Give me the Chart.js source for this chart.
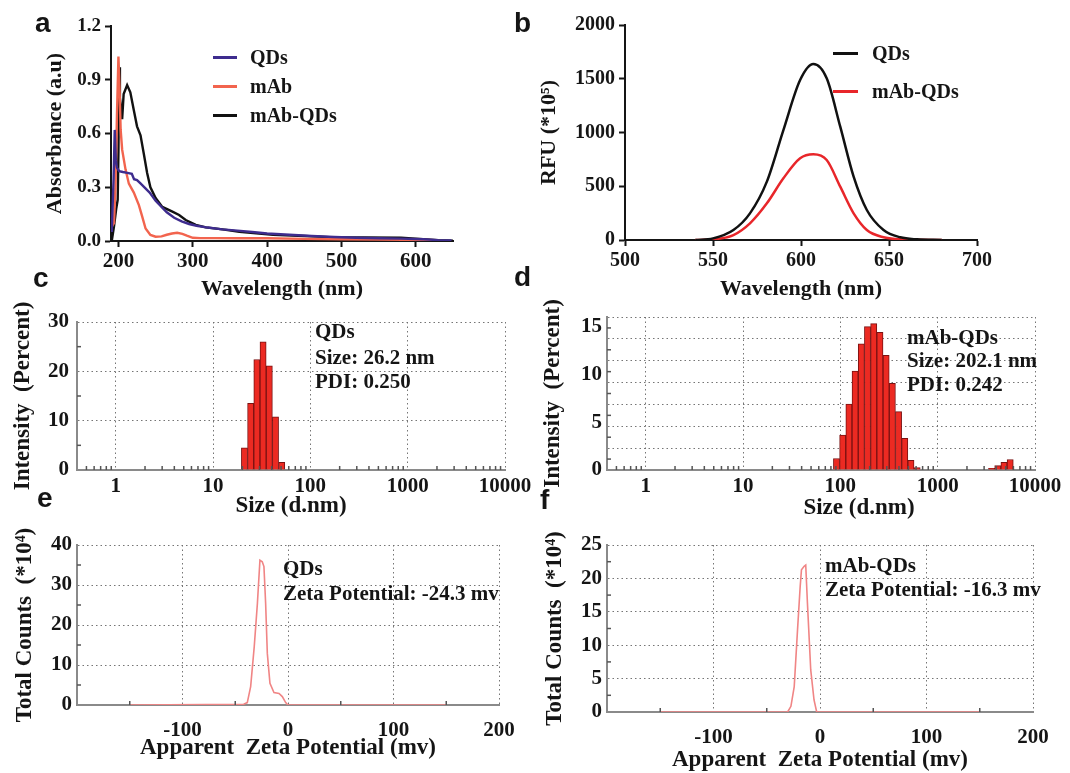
<!DOCTYPE html>
<html><head><meta charset="utf-8">
<script src="https://cdn.jsdelivr.net/npm/chart.js@4.4.1/dist/chart.umd.min.js"></script>
<style>
body{margin:0;background:#fff;width:1070px;height:773px;overflow:hidden;position:relative;}
canvas{position:absolute;left:0;top:0;}
.t{position:absolute;white-space:nowrap;font-family:"Liberation Serif","Times New Roman",serif;font-weight:bold;line-height:1;color:#151515;}
.L{font-family:"Liberation Sans",Arial,sans-serif;}
.sw{position:absolute;height:3px;}
</style></head><body>
<canvas id="pa" width="1070" height="773"></canvas>
<canvas id="pb" width="1070" height="773"></canvas>
<canvas id="pc" width="1070" height="773"></canvas>
<canvas id="pd" width="1070" height="773"></canvas>
<canvas id="pe" width="1070" height="773"></canvas>
<canvas id="pf" width="1070" height="773"></canvas>
<script>
// ---------- DATA ----------
// (a) UV-vis absorbance
const uvSeriesNames = ['QDs', 'mAb', 'mAb-QDs'];
const uvQdsNm = [191,193.5,195,196.5,198,201,206,212,218,221,225,230,236,242,250,258,265,275,285,295,305,320,340,360,380,400,430,460,490,520,550,580,610,630,648];
const uvQdsAbs = [0.05,0.35,0.62,0.45,0.41,0.39,0.385,0.38,0.375,0.345,0.34,0.32,0.295,0.27,0.225,0.19,0.16,0.13,0.11,0.095,0.085,0.075,0.065,0.058,0.05,0.042,0.035,0.028,0.022,0.018,0.015,0.013,0.01,0.005,0.003];
const uvMabNm = [191,194,196,198,200,201.5,203,205,209.5,214,220.7,227.5,232,236.5,243,250,258,265,272,279,286,292,300,310,330,360,400,450,500,550,600,630];
const uvMabAbs = [0.08,0.10,0.30,0.70,1.03,0.85,0.62,0.51,0.40,0.32,0.27,0.20,0.136,0.07,0.034,0.024,0.026,0.035,0.042,0.046,0.04,0.03,0.018,0.016,0.016,0.015,0.015,0.012,0.01,0.008,0.006,0.004];
const uvConjNm = [191,194,197,199,200,200.8,202,205,207,211.7,216,220.7,225,229.7,234,238.6,243,250,259,272.6,281.6,290.5,304,317.6,340,362.6,408,450,491,530,580,610,630,650];
const uvConjAbs = [0.0,0.08,0.18,0.23,0.5,0.97,0.8,0.68,0.82,0.87,0.83,0.73,0.64,0.59,0.49,0.38,0.30,0.24,0.19,0.164,0.145,0.117,0.09,0.076,0.065,0.052,0.034,0.028,0.02,0.02,0.018,0.01,0.004,0.002];
const uvXTicks = [200,300,400,500,600];
const uvYTicks = [0,0.3,0.6,0.9,1.2];

// (b) fluorescence
const flSeriesNames = ['QDs', 'mAb-QDs'];
const flNm = [540,550,561.6,571,580.6,590,599.5,607,614.6,622.3,629.9,637.4,646.9,656.4,665.9,680];
const flQds = [0,15,93,248,543,1023,1488,1637,1504,1054,589,279,93,25,6,0];
const flConj = [0,6,46,155,341,574,760,797,744,496,248,93,25,6,2,0];
const flXTicks = [500,550,600,650,700];
const flYTicks = [0,500,1000,1500,2000];

// (c) DLS QDs
const dlsSizeC = [21.04,24.36,28.21,32.67,37.84,43.82,50.75];
const dlsIntC = [4.5,13.5,22.4,26.0,21.1,10.8,1.55];
// (d) DLS mAb-QDs
const dlsSizeD = [91.28,105.7,122.4,141.8,164.2,190.1,220.2,255.0,295.3,342.0,396.1,458.7,531.2,615.1,3580,4145,4801,5560];
const dlsIntD = [1.2,3.66,6.9,10.35,13.2,15.0,15.3,14.4,12.0,9.06,6.1,3.3,1.0,0.25,0.17,0.45,0.8,1.1];
const sizeTicks = [1,10,100,1000,10000];
const dlsYTicksC = [0,10,20,30];
const dlsYLabelsD = [0,5,10,15];

// (e) zeta QDs
const zetaMvE = [-150,-42,-38.6,-35.4,-32,-29,-26.6,-24.4,-22.8,-21.2,-19.6,-17.1,-13.3,-8.5,-5.4,-2.2,0,150];
const zetaCountE = [0,0.2,0.6,4.6,14.6,25.4,36.2,35.8,34.6,25.4,12.9,5.4,3.1,2.9,2.1,0.6,0,0];
// (f) zeta mAb-QDs
const zetaMvF = [-150,-30.4,-27.3,-24.2,-21.1,-18.6,-17.4,-14.9,-13.4,-11.8,-8.7,-5.6,-3.1,150];
const zetaCountF = [0,0,0.85,3.8,12.3,18.8,21.3,21.8,22,16.3,6.3,1.8,0,0];
const zetaXTicks = [-100,0,100,200];
const zetaYTicksE = [0,10,20,30,40];
const zetaYTicksF = [0,5,10,15,20,25];

// ---------- HELPERS ----------
const W = 1070, H = 773;
const INK = '#151515';
const SERIF = "'Liberation Serif','Times New Roman',serif";
const GRAY = 'rgba(110,110,110,0.95)';
const pts = (xs, ys) => xs.map((x, i) => ({x: x, y: ys[i]}));

function frame(g) {
  const sL = g.yTitleX - g.titleSize / 2;
  const sB = g.xTitleY + g.titleSize / 2;
  return {padding: {left: sL, top: g.T, right: W - g.R, bottom: H - sB}, yW: g.L - sL, xH: sB - g.B};
}

function axis(o) {
  return {
    type: o.type || 'linear', position: o.pos, min: o.min, max: o.max, offset: false,
    afterFit: s => { if (o.pos === 'left') s.width = o.size; else s.height = o.size; },
    afterBuildTicks: s => { s.ticks = o.ticks.map(v => ({value: v})); },
    ticks: {autoSkip: false, maxRotation: 0, minRotation: 0, padding: o.pad, color: INK,
      font: {family: SERIF, size: o.tickSize || 21, weight: 'bold'},
      callback: o.fmt || (v => String(v))},
    grid: o.grid, border: o.border,
    title: {display: o.noTitle ? false : true, text: o.title, color: INK, padding: 0,
      font: {family: SERIF, size: o.titleSize, weight: 'bold', lineHeight: 1}}
  };
}
const prismGrid = {display: true, drawOnChartArea: false, drawTicks: true, tickLength: 6, tickWidth: 2, tickColor: INK, offset: false};
const prismBorder = {display: true, color: INK, width: 2};
const malvernGrid = c => ({display: true, drawTicks: false, color: c || GRAY, lineWidth: 1, offset: false});
const malvernBorder = {display: true, color: '#8a8a8a', width: 2, dash: [1.5, 3]};

const minorTicks = {
  id: 'minorTicks',
  afterDraw(chart, args, opts) {
    const ctx = chart.ctx, ca = chart.chartArea, sx = chart.scales.x, sy = chart.scales.y;
    ctx.save(); ctx.strokeStyle = '#555'; ctx.lineWidth = 1.5;
    (opts.x || []).forEach(v => { const p = sx.getPixelForValue(v); ctx.beginPath(); ctx.moveTo(p, ca.bottom); ctx.lineTo(p, ca.bottom - 4); ctx.stroke(); });
    (opts.y || []).forEach(v => { const p = sy.getPixelForValue(v); ctx.beginPath(); ctx.moveTo(ca.left, p); ctx.lineTo(ca.left + 4, p); ctx.stroke(); });
    ctx.restore();
  }
};

function build(id, fr, cfg) {
  return new Chart(document.getElementById(id), {
    type: cfg.type, data: {datasets: cfg.datasets},
    options: {responsive: false, animation: false, events: [],
      layout: {padding: fr.padding},
      plugins: {legend: {display: false}, tooltip: {enabled: false}, minorTicks: cfg.minor || {}},
      scales: {x: cfg.x, y: cfg.y}},
    plugins: cfg.minor ? [minorTicks] : []
  });
}

function logMinors(lo, hi) {
  const out = [];
  for (let d = 0.1; d < hi; d *= 10) for (let k = 2; k <= 9; k++) { const v = k * d; if (v > lo && v < hi) out.push(v); }
  return out;
}

// ---------- (a) ----------
{
  const fr = frame({L: 111, T: 26, R: 453, B: 241, yTitleX: 55, xTitleY: 289, titleSize: 22});
  build('pa', fr, {type: 'line',
    datasets: [
      {label: uvSeriesNames[0], data: pts(uvQdsNm, uvQdsAbs), borderColor: '#3e2c8e', borderWidth: 2.4, pointRadius: 0, tension: 0},
      {label: uvSeriesNames[1], data: pts(uvMabNm, uvMabAbs), borderColor: '#f2644e', borderWidth: 2.4, pointRadius: 0, tension: 0},
      {label: uvSeriesNames[2], data: pts(uvConjNm, uvConjAbs), borderColor: '#111', borderWidth: 2.4, pointRadius: 0, tension: 0}
    ],
    x: axis({pos: 'bottom', min: 190, max: 650, ticks: uvXTicks, size: fr.xH, pad: 2, tickSize: 21, grid: prismGrid, border: prismBorder, title: 'Wavelength (nm)', titleSize: 22}),
    y: axis({pos: 'left', min: 0, max: 1.2, ticks: uvYTicks, size: fr.yW, pad: 4, tickSize: 19, grid: prismGrid, border: prismBorder, title: 'Absorbance (a.u)', titleSize: 22, fmt: v => v.toFixed(1)})
  });
}
// ---------- (b) ----------
{
  const fr = frame({L: 625, T: 25, R: 977, B: 240, yTitleX: 549, xTitleY: 289, titleSize: 22});
  build('pb', fr, {type: 'line',
    datasets: [
      {label: flSeriesNames[0], data: pts(flNm, flQds), borderColor: '#111', borderWidth: 2.5, pointRadius: 0, cubicInterpolationMode: 'monotone'},
      {label: flSeriesNames[1], data: pts(flNm, flConj), borderColor: '#e8262a', borderWidth: 2.5, pointRadius: 0, cubicInterpolationMode: 'monotone'}
    ],
    x: axis({pos: 'bottom', min: 500, max: 700, ticks: flXTicks, size: fr.xH, pad: 3, tickSize: 20, grid: prismGrid, border: prismBorder, title: 'Wavelength (nm)', titleSize: 22}),
    y: axis({pos: 'left', min: 0, max: 2000, ticks: flYTicks, size: fr.yW, pad: 4, tickSize: 20, grid: prismGrid, border: prismBorder, title: 'RFU (*10\u2075)', titleSize: 22})
  });
}
// ---------- (c) ----------
const barStyle = {backgroundColor: '#ec2a22', borderColor: '#7a1212', borderWidth: 1, barPercentage: 1, categoryPercentage: 1};
{
  const fr = frame({L: 77, T: 322, R: 505, B: 470, yTitleX: 23, xTitleY: 506, titleSize: 23});
  build('pc', fr, {type: 'bar',
    datasets: [Object.assign({label: 'QDs', data: pts(dlsSizeC, dlsIntC)}, barStyle)],
    x: axis({type: 'logarithmic', pos: 'bottom', min: 0.4, max: 10000, ticks: sizeTicks, size: fr.xH, pad: 4, grid: malvernGrid(), border: malvernBorder, title: 'Size (d.nm)', titleSize: 23}),
    y: axis({pos: 'left', min: 0, max: 30, ticks: dlsYTicksC, size: fr.yW, pad: 8, grid: malvernGrid(), border: malvernBorder, title: 'Intensity  (Percent)', titleSize: 23}),
    minor: {x: logMinors(0.4, 10000), y: [5, 15, 25]}
  });
}
// ---------- (d) ----------
{
  const fr = frame({L: 607, T: 317, R: 1035, B: 470, yTitleX: 553, xTitleY: 507, titleSize: 23});
  const yMax = 16, nGrid = 7;
  const gridVals = []; for (let i = 0; i <= nGrid; i++) gridVals.push(yMax * i / nGrid);
  const allY = Array.from(new Set([...gridVals, ...dlsYLabelsD])).sort((a, b) => a - b);
  const isGrid = v => gridVals.some(g => Math.abs(g - v) < 1e-9);
  const minorY = []; for (let i = 0; i < nGrid; i++) minorY.push(yMax * (i + 0.5) / nGrid);
  build('pd', fr, {type: 'bar',
    datasets: [Object.assign({label: 'mAb-QDs', data: pts(dlsSizeD, dlsIntD)}, barStyle)],
    x: axis({type: 'logarithmic', pos: 'bottom', min: 0.4, max: 10000, ticks: sizeTicks, size: fr.xH, pad: 4, grid: malvernGrid(), border: malvernBorder, title: 'Size (d.nm)', titleSize: 23, noTitle: true}),
    y: axis({pos: 'left', min: 0, max: yMax, ticks: allY, size: fr.yW, pad: 5,
      grid: malvernGrid(c => isGrid(c.tick.value) ? GRAY : 'rgba(0,0,0,0)'), border: malvernBorder,
      title: 'Intensity  (Percent)', titleSize: 23, fmt: v => dlsYLabelsD.includes(v) ? String(v) : ''}),
    minor: {x: logMinors(0.4, 10000), y: minorY}
  });
}
// ---------- (e) ----------
{
  const fr = frame({L: 77, T: 545, R: 499, B: 705, yTitleX: 25, xTitleY: 748, titleSize: 23});
  build('pe', fr, {type: 'line',
    datasets: [{label: 'QDs', data: pts(zetaMvE, zetaCountE), borderColor: '#f08585', borderWidth: 1.6, pointRadius: 0, tension: 0}],
    x: axis({pos: 'bottom', min: -200, max: 200, ticks: zetaXTicks, size: fr.xH, pad: 13, grid: malvernGrid(), border: malvernBorder, title: 'Apparent  Zeta Potential (mv)', titleSize: 23}),
    y: axis({pos: 'left', min: 0, max: 40, ticks: zetaYTicksE, size: fr.yW, pad: 5, grid: malvernGrid(), border: malvernBorder, title: 'Total Counts  (*10\u2074)', titleSize: 23}),
    minor: {x: [-150, -50, 50, 150], y: [5, 15, 25, 35]}
  });
}
// ---------- (f) ----------
{
  const fr = frame({L: 607, T: 545, R: 1033, B: 712, yTitleX: 555, xTitleY: 760, titleSize: 23});
  build('pf', fr, {type: 'line',
    datasets: [{label: 'mAb-QDs', data: pts(zetaMvF, zetaCountF), borderColor: '#f08585', borderWidth: 1.6, pointRadius: 0, tension: 0}],
    x: axis({pos: 'bottom', min: -200, max: 200, ticks: zetaXTicks, size: fr.xH, pad: 13, grid: malvernGrid(), border: malvernBorder, title: 'Apparent  Zeta Potential (mv)', titleSize: 23}),
    y: axis({pos: 'left', min: 0, max: 25, ticks: zetaYTicksF, size: fr.yW, pad: 5, grid: malvernGrid(), border: malvernBorder, title: 'Total Counts  (*10\u2074)', titleSize: 23}),
    minor: {x: [-150, -50, 50, 150], y: [2.5, 7.5, 12.5, 17.5, 22.5]}
  });
}

// ---------- HTML text ----------
function addText(txt, x, base, size, cls, center) {
  const d = document.createElement('div');
  d.className = 't' + (cls ? ' ' + cls : '');
  d.textContent = txt;
  d.style.left = x + 'px';
  d.style.top = (base - 0.84 * size) + 'px';
  d.style.fontSize = size + 'px';
  if (center) d.style.transform = 'translateX(-50%)';
  document.body.appendChild(d);
}
function addSwatch(x1, x2, y, color) {
  const d = document.createElement('div');
  d.className = 'sw';
  d.style.left = x1 + 'px'; d.style.width = (x2 - x1) + 'px'; d.style.top = (y - 1.5) + 'px'; d.style.background = color;
  document.body.appendChild(d);
}
// panel letters
[['a', 35, 33], ['b', 514, 33], ['c', 33, 288], ['d', 514, 287], ['e', 37, 508], ['f', 540, 510]].forEach(l => addText(l[0], l[1], l[2], 28, 'L'));
// legend (a)
const uvColors = ['#3e2c8e', '#f2644e', '#111'];
[57, 86, 115].forEach((y, i) => { addSwatch(213, 237, y, uvColors[i]); addText(uvSeriesNames[i], 250, y + 7, 20); });
// legend (b)
const flColors = ['#111', '#e8262a'];
[53, 91].forEach((y, i) => { addSwatch(833, 858, y, flColors[i]); addText(flSeriesNames[i], 872, y + 7, 20); });
// x-axis title of panel d (offset to the right in the original)
addText('Size (d.nm)', 859, 514, 23, '', true);
// annotations
addText('QDs', 315, 339, 21); addText('Size: 26.2 nm', 315, 365, 21); addText('PDI: 0.250', 315, 389, 21);
addText('mAb-QDs', 907, 345, 21); addText('Size: 202.1 nm', 907, 368, 21); addText('PDI: 0.242', 907, 392, 21);
addText('QDs', 283, 576, 21); addText('Zeta Potential: -24.3 mv', 283, 601, 21);
addText('mAb-QDs', 825, 573, 21); addText('Zeta Potential: -16.3 mv', 825, 597, 21);
</script>
</body></html>
